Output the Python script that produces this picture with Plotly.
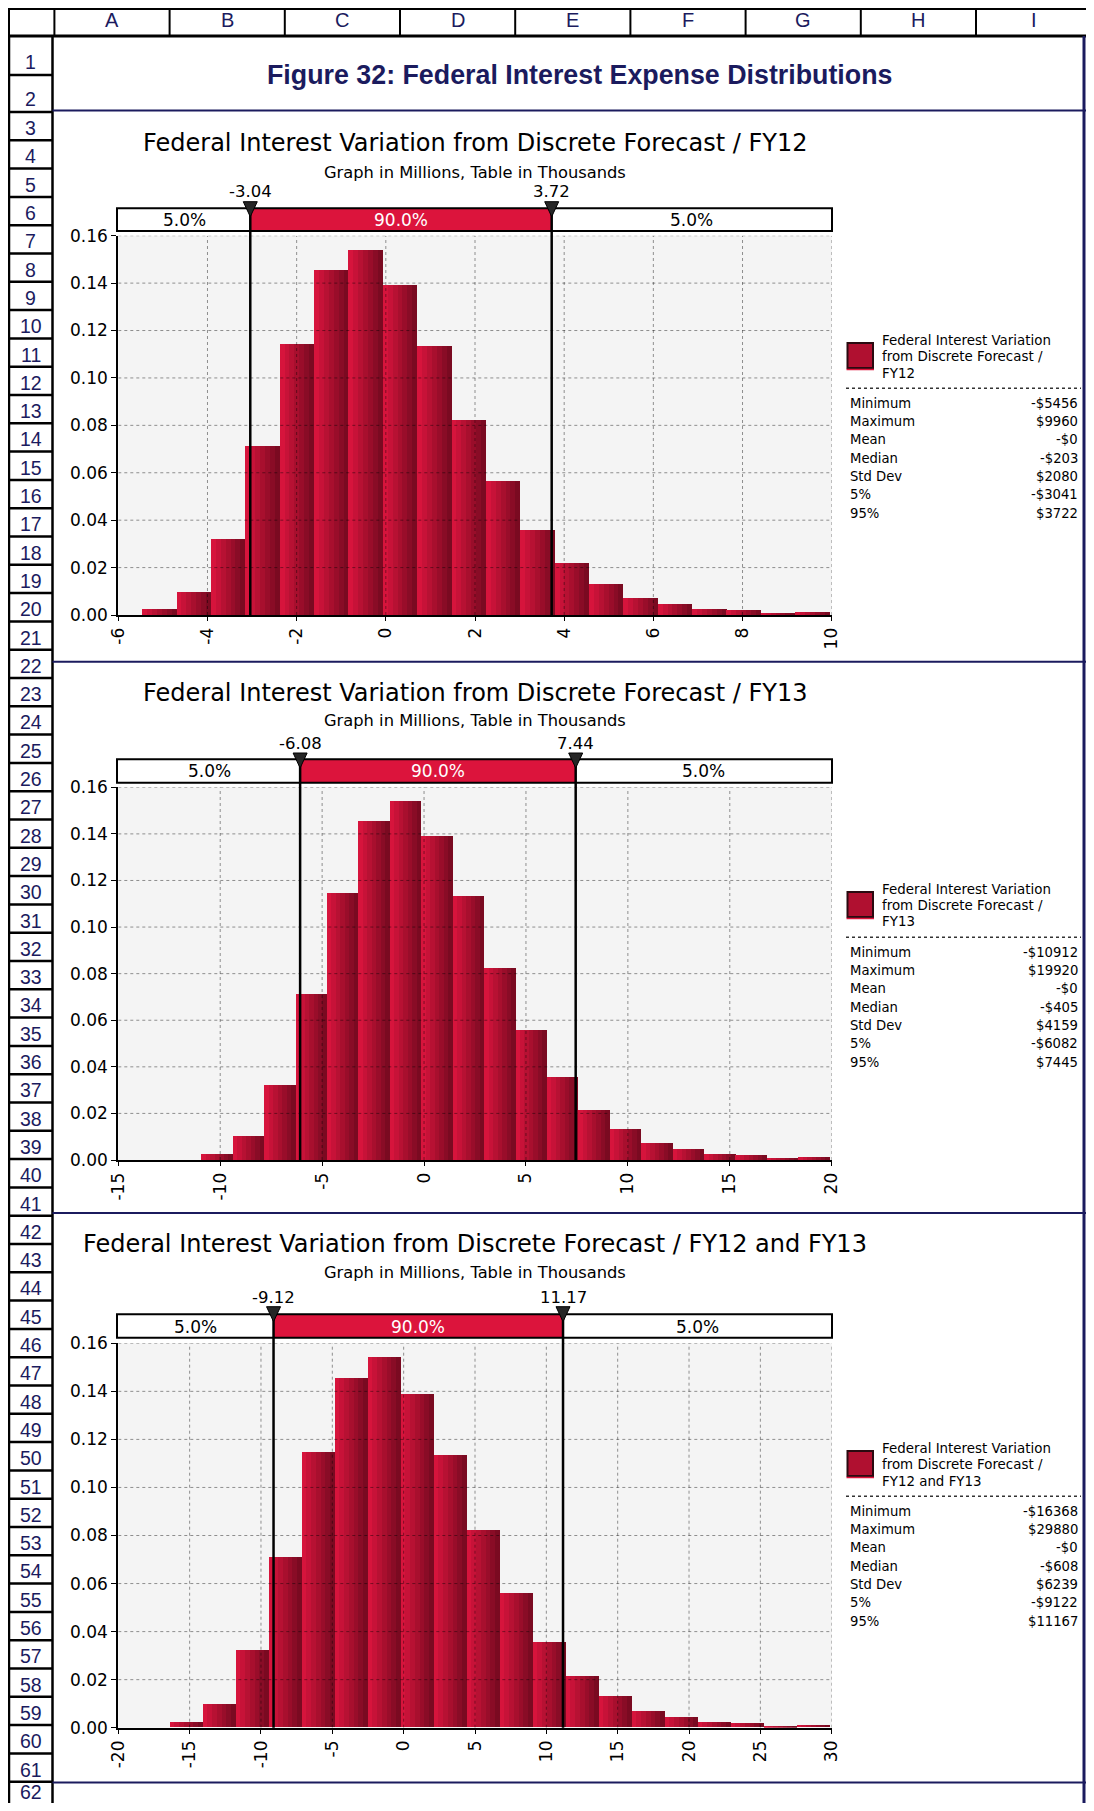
import plotly.graph_objects as go

W, H = 1094, 1811          # page size the picture is taken at
PAGE_MARGIN = 8            # default body margin around the plot div
FIG_W, FIG_H = W - 2 * PAGE_MARGIN, H - 2 * PAGE_MARGIN

# ----------------- data -----------------
FY12_EDGES = [-5.456, -4.685, -3.914, -3.144, -2.373, -1.602, -0.831, -0.060, 0.710, 1.481,
              2.252, 3.023, 3.794, 4.564, 5.335, 6.106, 6.877, 7.648, 8.418, 9.189, 9.960]
FY12_PROB = [0.0025, 0.0097, 0.0323, 0.0713, 0.1146, 0.1455, 0.1540, 0.1392, 0.1135, 0.0822,
             0.0565, 0.0359, 0.0219, 0.0131, 0.0072, 0.0046, 0.0025, 0.0021, 0.0008, 0.0013]
FY12_XTICKS = [-6, -4, -2, 0, 2, 4, 6, 8, 10]
FY12_CUTS = [-3.04, 3.72]
FY12_STATS = ["-$5456", "$9960", "-$0", "-$203", "$2080", "-$3041", "$3722"]

FY13_EDGES = [-10.912, -9.370, -7.829, -6.287, -4.746, -3.204, -1.662, -0.121, 1.421, 2.962,
              4.504, 6.046, 7.587, 9.129, 10.670, 12.212, 13.754, 15.295, 16.837, 18.378, 19.920]
FY13_PROB = [0.0026, 0.0100, 0.0322, 0.0713, 0.1145, 0.1455, 0.1541, 0.1391, 0.1133, 0.0823,
             0.0558, 0.0357, 0.0215, 0.0133, 0.0073, 0.0047, 0.0026, 0.0021, 0.0006, 0.0013]
FY13_XTICKS = [-15, -10, -5, 0, 5, 10, 15, 20]
FY13_CUTS = [-6.08, 7.44]
FY13_STATS = ["-$10912", "$19920", "-$0", "-$405", "$4159", "-$6082", "$7445"]

BOTH_EDGES = [-16.368, -14.056, -11.743, -9.431, -7.118, -4.806, -2.494, -0.181, 2.131, 4.444,
              6.756, 9.068, 11.381, 13.693, 16.006, 18.318, 20.630, 22.943, 25.255, 27.568, 29.880]
BOTH_PROB = [0.0024, 0.0099, 0.0323, 0.0711, 0.1148, 0.1456, 0.1543, 0.1389, 0.1135, 0.0823,
             0.0561, 0.0357, 0.0215, 0.0132, 0.0069, 0.0044, 0.0024, 0.0019, 0.0007, 0.0011]
BOTH_XTICKS = [-20, -15, -10, -5, 0, 5, 10, 15, 20, 25, 30]
BOTH_CUTS = [-9.12, 11.17]
BOTH_STATS = ["-$16368", "$29880", "-$0", "-$608", "$6239", "-$9122", "$11167"]

Y_TICKS = [0.00, 0.02, 0.04, 0.06, 0.08, 0.10, 0.12, 0.14, 0.16]
STAT_NAMES = ["Minimum", "Maximum", "Mean", "Median", "Std Dev", "5%", "95%"]
PCT_LABELS = ["5.0%", "90.0%", "5.0%"]
COLUMNS = ["A", "B", "C", "D", "E", "F", "G", "H", "I"]
ROWS = list(range(1, 63))

SHEET_TITLE = "Figure 32: Federal Interest Expense Distributions"
SUBTITLE = "Graph in Millions, Table in Thousands"

CHARTS = [
    dict(title="Federal Interest Variation from Discrete Forecast / FY12",
         legend=["Federal Interest Variation", "from Discrete Forecast /", "FY12"],
         edges=FY12_EDGES, prob=FY12_PROB, ticks=FY12_XTICKS, cuts=FY12_CUTS, stats=FY12_STATS),
    dict(title="Federal Interest Variation from Discrete Forecast / FY13",
         legend=["Federal Interest Variation", "from Discrete Forecast /", "FY13"],
         edges=FY13_EDGES, prob=FY13_PROB, ticks=FY13_XTICKS, cuts=FY13_CUTS, stats=FY13_STATS),
    dict(title="Federal Interest Variation from Discrete Forecast / FY12 and FY13",
         legend=["Federal Interest Variation", "from Discrete Forecast /", "FY12 and FY13"],
         edges=BOTH_EDGES, prob=BOTH_PROB, ticks=BOTH_XTICKS, cuts=BOTH_CUTS, stats=BOTH_STATS),
]

# ----------------- placement (pixels in the 1094x1811 page) -----------------
PLACES = [
    dict(title=142.5, sub=172.5, cut=192.0, tri=201.7, bar=(208.3, 231.0), plot=(235.7, 615.0), leg=0),
    dict(title=692.7, sub=720.0, cut=743.3, tri=753.0, bar=(759.3, 782.7), plot=(787.3, 1160.0), leg=549),
    dict(title=1244.0, sub=1272.7, cut=1297.7, tri=1306.7, bar=(1314.3, 1337.7), plot=(1343.3, 1727.7), leg=1108),
]
PLOT_X = (118.3, 831.7)
BAR_X = (117.0, 832.0)

CHART_FONT = "DejaVu Sans, Verdana, sans-serif"
SHEET_FONT = "Liberation Sans, Arial, sans-serif"
NAVY = "#1b1b5e"
CRIMSON = "#dc143c"
BAR_LIGHT = (214, 20, 60)
BAR_DARK = (122, 10, 33)
N_SLICES = 7


def px(x):
    return (x - PAGE_MARGIN) / FIG_W


def py(y):
    return 1 - (y - PAGE_MARGIN) / FIG_H


def pline(x0, y0, x1, y1, color="black", width=2, dash=None):
    return dict(type="line", xref="paper", yref="paper", x0=px(x0), y0=py(y0), x1=px(x1), y1=py(y1),
                line=dict(color=color, width=width, dash=dash), layer="above")


def ptext(x, y, s, size, color="black", family=CHART_FONT, xanchor="center", xref="paper"):
    return dict(x=x if xref != "paper" else px(x), y=py(y), xref=xref, yref="paper", text=s,
                showarrow=False, xanchor=xanchor, yanchor="middle",
                font=dict(size=size, color=color, family=family))


def shade(t):
    r = [round(a + (b - a) * t) for a, b in zip(BAR_LIGHT, BAR_DARK)]
    return f"rgb({r[0]},{r[1]},{r[2]})"


fig = go.Figure()
shapes, annotations, axes = [], [], {}

for i, (c, p) in enumerate(zip(CHARTS, PLACES), start=1):
    s = "" if i == 1 else str(i)
    xref, yref = f"x{s}", f"y{s}"
    top, bottom = p["plot"]
    ticks = c["ticks"]

    # histogram bars, each bin split into slices to fake the left-to-right gradient
    xs, ys, ws, cols = [], [], [], []
    for lo, hi, v in zip(c["edges"][:-1], c["edges"][1:], c["prob"]):
        w = (hi - lo) / N_SLICES
        for k in range(N_SLICES):
            xs.append(lo + (k + 0.5) * w)
            ys.append(v)
            ws.append(w * 1.02)
            cols.append(shade(k / (N_SLICES - 1)))
    fig.add_trace(go.Bar(x=xs, y=ys, width=ws, marker=dict(color=cols, line=dict(width=0)),
                         xaxis=xref, yaxis=yref, showlegend=False, hoverinfo="skip"))

    axes[f"xaxis{s}"] = dict(
        domain=[px(PLOT_X[0]), px(PLOT_X[1])], anchor=yref, range=[ticks[0], ticks[-1]],
        tickvals=ticks, ticktext=[str(t) for t in ticks], tickangle=-90,
        ticks="outside", ticklen=4, tickwidth=1, tickcolor="black",
        showline=True, linecolor="black", linewidth=2, showgrid=False, zeroline=False,
        tickfont=dict(family=CHART_FONT, size=17, color="black"), layer="above traces",
        fixedrange=True, automargin=False,
    )
    axes[f"yaxis{s}"] = dict(
        domain=[py(bottom), py(top)], anchor=xref, range=[0, 0.16],
        tickvals=Y_TICKS, tickformat=".2f", ticks="outside", ticklen=5, tickwidth=1, tickcolor="black",
        showline=True, linecolor="black", linewidth=2, showgrid=False, zeroline=False,
        tickfont=dict(family=CHART_FONT, size=17, color="black"), layer="above traces",
        fixedrange=True, automargin=False,
    )

    # dotted grid drawn over the bars
    for t in ticks[1:]:
        shapes.append(dict(type="line", xref=xref, yref=yref, x0=t, x1=t, y0=0, y1=0.16,
                           line=dict(color="rgba(0,0,0,0.42)", width=1, dash="dot"), layer="above"))
    for t in Y_TICKS[1:]:
        shapes.append(dict(type="line", xref=xref, yref=yref, x0=ticks[0], x1=ticks[-1], y0=t, y1=t,
                           line=dict(color="rgba(0,0,0,0.42)", width=1, dash="dot"), layer="above"))

    # titles
    annotations.append(ptext(475, p["title"], c["title"], 24))
    annotations.append(ptext(475, p["sub"], SUBTITLE, 16.3))

    # percentile strip
    lo, hi = c["cuts"]
    b0, b1 = p["bar"]
    shapes.append(dict(type="rect", xref="paper", yref="paper", x0=px(BAR_X[0]), x1=px(BAR_X[1]),
                       y0=py(b1), y1=py(b0), fillcolor="white", line=dict(width=0), layer="above"))
    shapes.append(dict(type="rect", xref=xref, yref="paper", x0=lo, x1=hi, y0=py(b1), y1=py(b0),
                       fillcolor=CRIMSON, line=dict(width=0), layer="above"))
    shapes.append(dict(type="rect", xref="paper", yref="paper", x0=px(BAR_X[0]), x1=px(BAR_X[1]),
                       y0=py(b1), y1=py(b0), line=dict(color="black", width=2), layer="above"))
    mid = (b0 + b1) / 2
    for xc, lab, col in zip([(ticks[0] + lo) / 2, (lo + hi) / 2, (hi + ticks[-1]) / 2],
                            PCT_LABELS, ["black", "white", "black"]):
        annotations.append(ptext(xc, mid + 0.5, lab, 17, color=col, xref=xref))

    for cut in c["cuts"]:
        shapes.append(dict(type="line", xref=xref, yref="paper", x0=cut, x1=cut,
                           y0=py(p["tri"] + 4), y1=py(bottom), line=dict(color="black", width=2.5),
                           layer="above"))
        shapes.append(dict(type="path", xref=xref, yref="paper", xsizemode="pixel", ysizemode="pixel",
                           xanchor=cut, yanchor=py(p["tri"]), path="M-7,0 L7,0 L0,-15 Z",
                           fillcolor="#262626", line=dict(color="black", width=1), layer="above"))
        annotations.append(ptext(cut, p["cut"], f"{cut:.2f}", 16.5, xref=xref))

    # legend block
    d = p["leg"]
    shapes.append(dict(type="rect", xref="paper", yref="paper", x0=px(847.5), x1=px(873),
                       y0=py(368 + d), y1=py(343 + d), fillcolor="#b01030",
                       line=dict(color="#2a0a10", width=2), layer="above"))
    shapes.append(pline(846.5, 369.5 + d, 874, 369.5 + d, color=CRIMSON, width=1.5))
    for k, line_txt in enumerate(c["legend"]):
        annotations.append(ptext(880, 340 + d + 16.5 * k, line_txt, 13.4, xanchor="left"))
    shapes.append(pline(846, 388.3 + d, 1081, 388.3 + d, color="#333333", width=1.5, dash="dot"))
    for k, (name, val) in enumerate(zip(STAT_NAMES, c["stats"])):
        y = 403 + d + 18.35 * k
        annotations.append(ptext(848, y, name, 13.2, xanchor="left"))
        annotations.append(ptext(1080, y, val, 13.2, xanchor="right"))

# ----------------- spreadsheet frame -----------------
COL_LEFT, COL_W = 54.4, 115.2
ROW_EDGES = [36, 75, 112] + [112 + 28.3 * k for k in range(1, 61)]

shapes.append(pline(8, 9, W, 9, width=2))
shapes.append(pline(9, 8, 9, 36, width=2))
for k in range(len(COLUMNS) + 1):
    x = COL_LEFT + COL_W * k
    shapes.append(pline(x, 8, x, 36, width=2))
for k, col in enumerate(COLUMNS):
    annotations.append(ptext(COL_LEFT + COL_W * (k + 0.5), 20, col, 20, color=NAVY, family=SHEET_FONT))
shapes.append(pline(8, 36, W, 36, width=3))

shapes.append(pline(9, 36, 9, H, width=2.5))
shapes.append(pline(52.5, 36, 52.5, H, width=2.5))
for e in ROW_EDGES[1:]:
    shapes.append(pline(9, e, 52.5, e, width=2.5))
for r, t0, t1 in zip(ROWS, ROW_EDGES[:-1], ROW_EDGES[1:]):
    yc = (t0 + t1) / 2 + (6 if r <= 2 else 2)
    if r == ROWS[-1]:
        yc = min(yc, H - PAGE_MARGIN - 11)   # keep the last label inside the plot div
    annotations.append(ptext(30.5, yc, str(r), 19.5, color=NAVY, family=SHEET_FONT))

for y in [110.5, 661.7, 1213.0, 1782.5]:
    shapes.append(pline(52.5, y, 1092, y, color=NAVY, width=2))
shapes.append(pline(1084, 36, 1084, H, color=NAVY, width=3))

annotations.append(ptext(579, 75, f"<b>{SHEET_TITLE}</b>", 26.8, color=NAVY, family=SHEET_FONT))

fig.update_layout(
    **axes,
    width=FIG_W, height=FIG_H, margin=dict(l=0, r=0, t=0, b=0, pad=0, autoexpand=False),
    paper_bgcolor="white", plot_bgcolor="#f4f4f4",
    barmode="overlay", bargap=0, showlegend=False,
    shapes=shapes, annotations=annotations,
)

fig.write_html("out.html", config={"displayModeBar": False})
